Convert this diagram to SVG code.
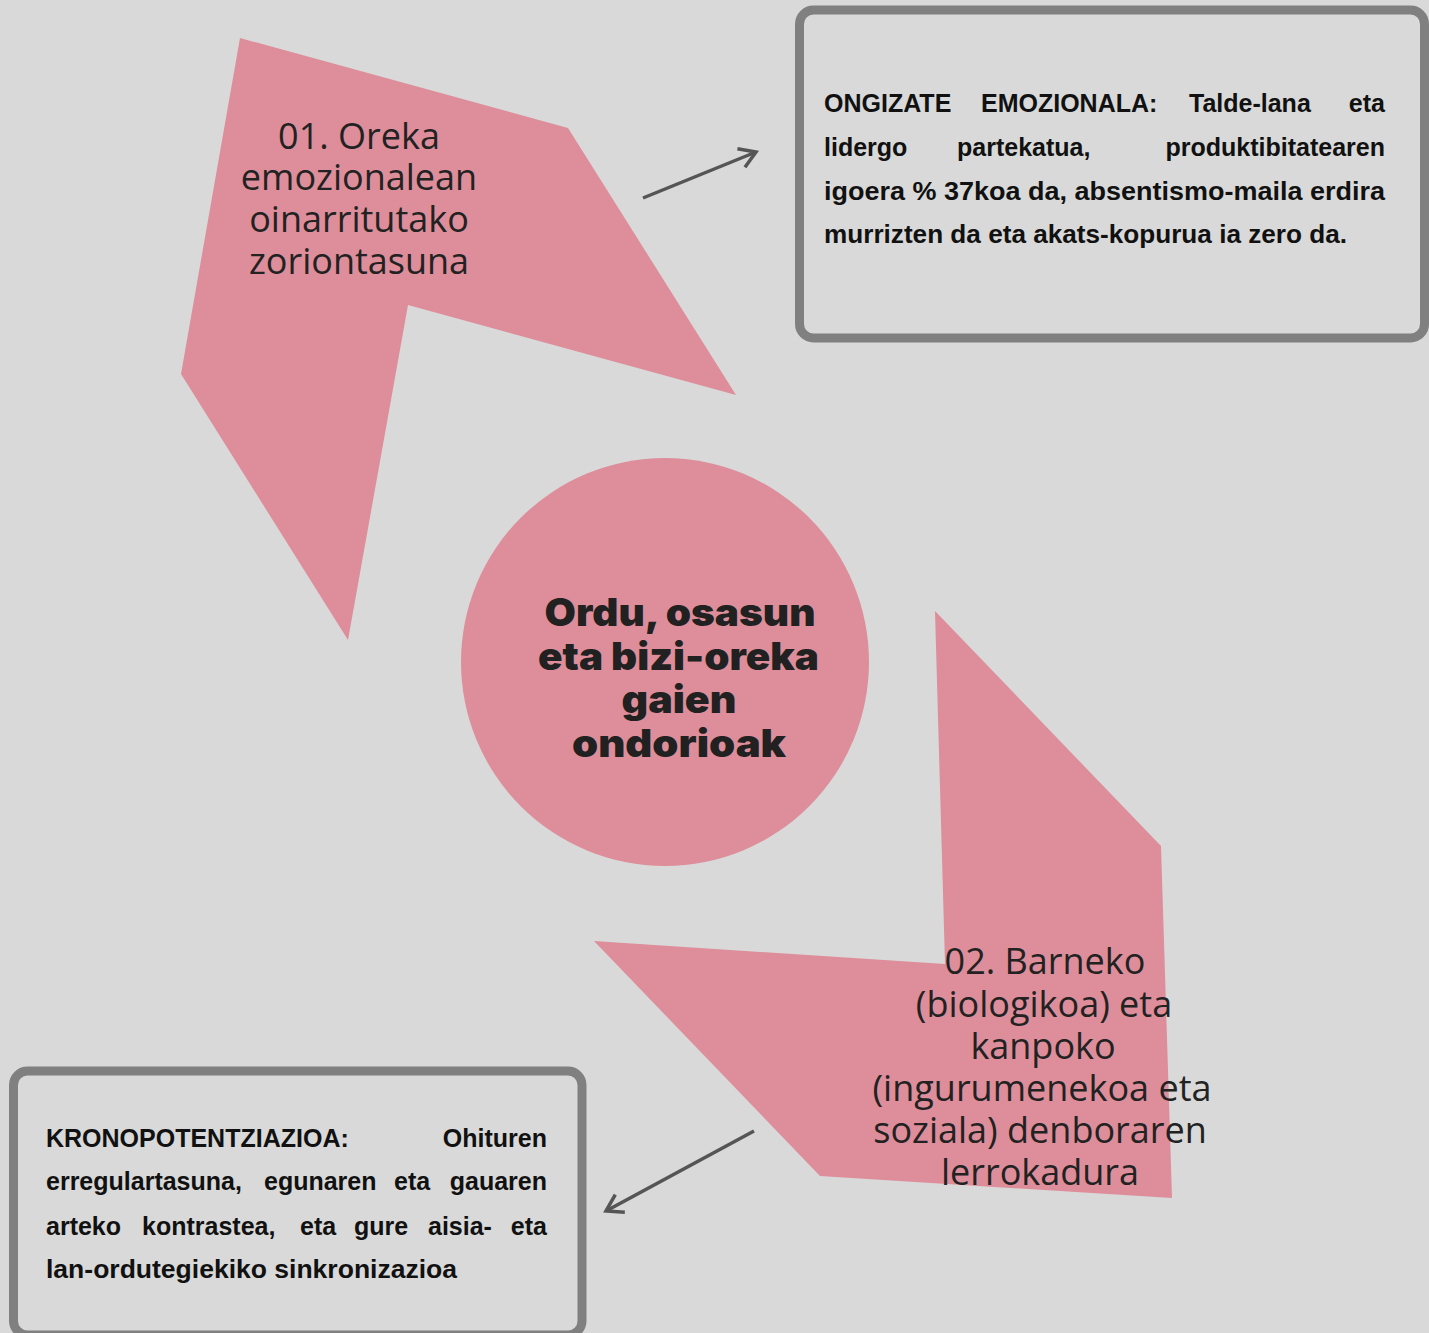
<svg xmlns="http://www.w3.org/2000/svg" width="1429" height="1333" viewBox="0 0 1429 1333">
<defs>
<style>
.shape{fill:#dd8e9a;}
.box{fill:none;stroke:#808080;stroke-width:9;}
.lbl{font-family:"Open Sans","Liberation Sans",sans-serif;font-size:36px;fill:#222;text-anchor:middle;}
.ctr{font-family:Inter,"Liberation Sans",sans-serif;font-size:38px;font-weight:900;fill:#212121;text-anchor:middle;}
.bt{font-family:"Liberation Sans",Arial,sans-serif;font-size:25px;font-weight:bold;fill:#111;}
.conn{stroke:#555;stroke-width:3.5;fill:none;}
</style>
<marker id="arr" markerUnits="userSpaceOnUse" markerWidth="30" markerHeight="30" viewBox="-20 -15 30 30" refX="0" refY="0" orient="auto">
<path d="M-16,-10 L0,0 L-16,10" fill="none" stroke="#555" stroke-width="3.5"/>
</marker>
</defs>
<rect x="0" y="0" width="1429" height="1333" fill="#d9d9d9"/>

<g id="node-01">
<polygon class="shape" points="240,38 568,128 736,395 408,305 348,640 181,374"/>
<text class="lbl"><tspan x="359" y="149">01. Oreka</tspan><tspan x="359" y="190">emozionalean</tspan><tspan x="359" y="232">oinarritutako</tspan><tspan x="359" y="274">zoriontasuna</tspan></text>
</g>

<g id="node-02">
<polygon class="shape" points="935,611 1161,846 1172,1198 820,1176 594,941 945,964"/>
<text class="lbl"><tspan x="1045" y="974">02. Barneko</tspan><tspan x="1044" y="1017">(biologikoa) eta</tspan><tspan x="1043" y="1059">kanpoko</tspan><tspan x="1042" y="1101">(ingurumenekoa eta</tspan><tspan x="1040" y="1143">soziala) denboraren</tspan><tspan x="1040" y="1185">lerrokadura</tspan></text>
</g>

<g id="node-center">
<circle cx="665" cy="662" r="204" class="shape"/>
<text class="ctr" x="680" y="626" textLength="271" lengthAdjust="spacingAndGlyphs">Ordu, osasun</text>
<text class="ctr" x="678.5" y="670" textLength="281" lengthAdjust="spacingAndGlyphs">eta bizi-oreka</text>
<text class="ctr" x="679" y="713" textLength="115" lengthAdjust="spacingAndGlyphs">gaien</text>
<text class="ctr" x="679" y="757" textLength="214" lengthAdjust="spacingAndGlyphs">ondorioak</text>
</g>

<g id="box-ongizate">
<rect class="box" x="799.5" y="10" width="625" height="328" rx="14"/>
<text class="bt" y="112"><tspan x="824">ONGIZATE</tspan><tspan x="981">EMOZIONALA:</tspan><tspan x="1189">Talde-lana</tspan><tspan x="1385" text-anchor="end">eta</tspan></text>
<text class="bt" y="156"><tspan x="824">lidergo</tspan><tspan x="957">partekatua,</tspan><tspan x="1385" text-anchor="end">produktibitatearen</tspan></text>
<text class="bt" y="200" x="824" textLength="561" lengthAdjust="spacingAndGlyphs">igoera % 37koa da, absentismo-maila erdira</text>
<text class="bt" y="243" x="824" textLength="523" lengthAdjust="spacingAndGlyphs">murrizten da eta akats-kopurua ia zero da.</text>
</g>

<g id="box-krono">
<rect class="box" x="13.5" y="1071" width="568.5" height="264" rx="14"/>
<text class="bt" y="1147"><tspan x="46">KRONOPOTENTZIAZIOA:</tspan><tspan x="547" text-anchor="end">Ohituren</tspan></text>
<text class="bt" y="1190"><tspan x="46">erregulartasuna,</tspan><tspan x="264">egunaren</tspan><tspan x="394">eta</tspan><tspan x="547" text-anchor="end">gauaren</tspan></text>
<text class="bt" y="1235"><tspan x="46">arteko</tspan><tspan x="142">kontrastea,</tspan><tspan x="300">eta</tspan><tspan x="354">gure</tspan><tspan x="428">aisia-</tspan><tspan x="547" text-anchor="end">eta</tspan></text>
<text class="bt" y="1278" x="46" textLength="411" lengthAdjust="spacingAndGlyphs">lan-ordutegiekiko sinkronizazioa</text>
</g>

<g id="connectors">
<line class="conn" x1="643" y1="198" x2="756" y2="152" marker-end="url(#arr)"/>
<line class="conn" x1="754" y1="1131" x2="606" y2="1211" marker-end="url(#arr)"/>
</g>
</svg>
